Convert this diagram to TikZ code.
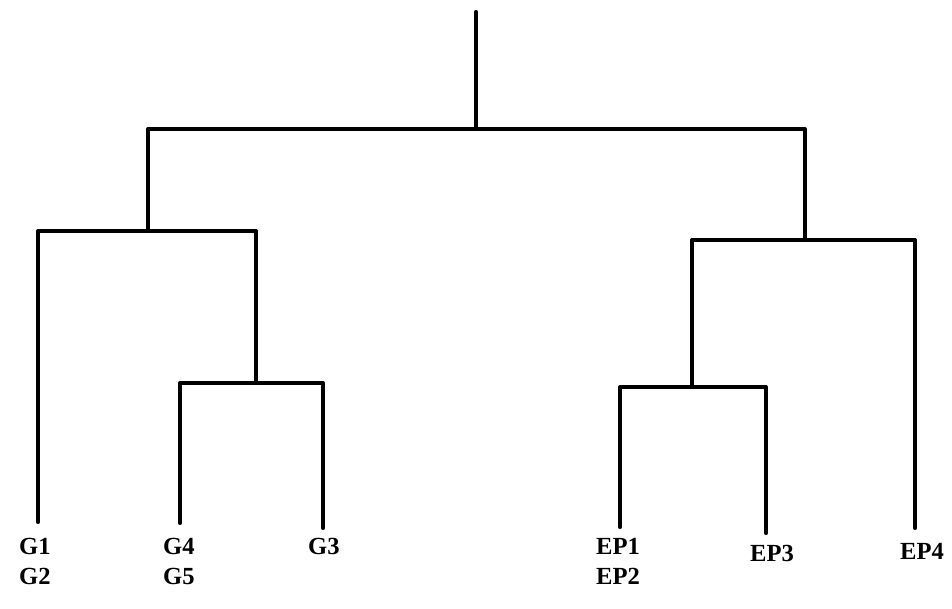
\documentclass[tikz,border=0pt]{standalone}
\usepackage{fontspec}
\setmainfont{Liberation Serif}
\usepackage{tikz}
\usetikzlibrary{positioning,calc}

\begin{document}
\begin{tikzpicture}[
    x=0.03cm, y=-0.03cm,
    link/.style={line width=3.5pt, line cap=round, line join=round},
    leaf/.style={font=\fontsize{21}{26}\selectfont\bfseries, inner sep=0pt, align=left, anchor=north west}
]
\useasboundingbox (0,0) rectangle (952,608);

% Junctions
\coordinate (top) at (476,12);
\coordinate (root) at (476,129);
\coordinate (gtop) at (148,231);
\coordinate (glow) at (256,383);
\coordinate (eptop) at (805,240);
\coordinate (eplow) at (692,387);

% Leaf ends
\coordinate (g1end) at (38,522);
\coordinate (g4end) at (180,523);
\coordinate (g3end) at (323,528);
\coordinate (ep1end) at (620,527);
\coordinate (ep3end) at (766,533);
\coordinate (ep4end) at (915,528);

% Labels
\node[leaf] (g1) at (19,538) {G1\\G2};
\node[leaf] (g4) at (163,538) {G4\\G5};
\node[leaf] (g3) at (308,538) {G3};
\node[leaf] (ep1) at (596,538) {EP1\\EP2};
\node[leaf] (ep3) at (750,545) {EP3};
\node[leaf] (ep4) at (900,543) {EP4};

% Tree
\draw[link] (top) -- (root);
\draw[link] (gtop) |- (root) -| (eptop);
\draw[link] (g1end) |- (gtop) -| (glow);
\draw[link] (g4end) |- (glow) -| (g3end);
\draw[link] (eplow) |- (eptop) -| (ep4end);
\draw[link] (ep1end) |- (eplow) -| (ep3end);

\end{tikzpicture}
\end{document}
